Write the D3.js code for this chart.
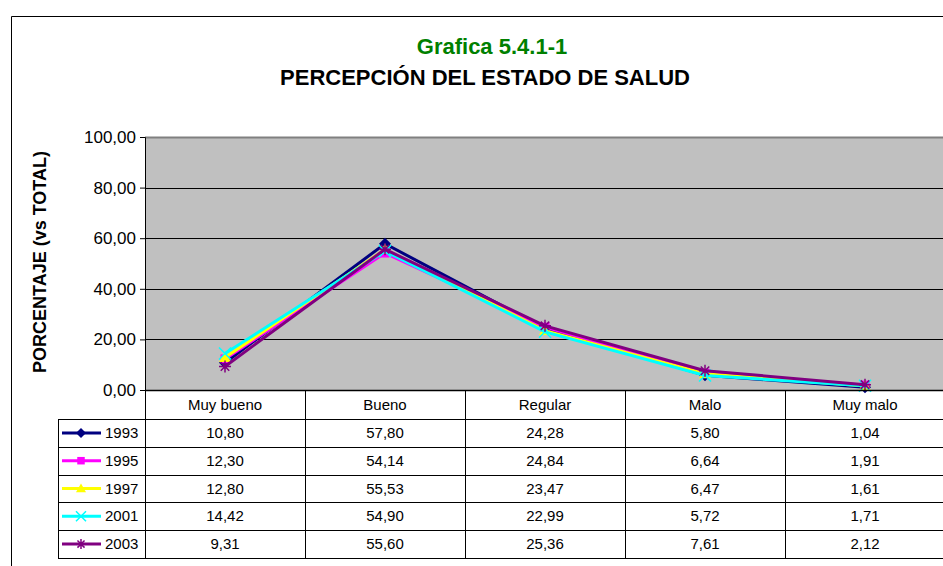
<!DOCTYPE html>
<html lang="es">
<head>
<meta charset="utf-8">
<title>Percepción del estado de salud</title>
<script src="https://cdn.jsdelivr.net/npm/d3@7"></script>
<style>
  body { margin: 0; background: #fff; }
  svg text { font-family: "Liberation Sans", Arial, sans-serif; }
</style>
</head>
<body>
<script>
// categorias y series
var categories = ["Muy bueno", "Bueno", "Regular", "Malo", "Muy malo"];
var years = ["1993", "1995", "1997", "2001", "2003"];
var v1993 = [10.80, 57.80, 24.28, 5.80, 1.04];
var v1995 = [12.30, 54.14, 24.84, 6.64, 1.91];
var v1997 = [12.80, 55.53, 23.47, 6.47, 1.61];
var v2001 = [14.42, 54.90, 22.99, 5.72, 1.71];
var v2003 = [9.31, 55.60, 25.36, 7.61, 2.12];
var yTicks = [0, 20, 40, 60, 80, 100];

var colors = ["#000080", "#ff00ff", "#ffff00", "#00ffff", "#800080"];
var symbols = ["diamond", "square", "triangle", "cross", "star"];
var series = [v1993, v1995, v1997, v2001, v2003].map(function (vals, i) {
  return { year: years[i], values: vals, color: colors[i], sym: symbols[i] };
});

var w = 943, h = 566;
var pLeft = 145, pRight = 945, pTop = 137, pBottom = 390;
var rowH = 27.8, headH = 29, legLeft = 58;

var svg = d3.select("body").append("svg")
  .attr("width", w).attr("height", h);

// marco exterior
svg.append("path")
  .attr("d", "M11.5," + h + "V16.5H" + w)
  .attr("fill", "none").attr("stroke", "#000").attr("stroke-width", 1);

// titulos
svg.append("text").text("Grafica 5.4.1-1")
  .attr("x", 492).attr("y", 54).attr("text-anchor", "middle")
  .attr("font-size", "22px").attr("font-weight", "bold").attr("fill", "#008000");
svg.append("text").text("PERCEPCIÓN DEL ESTADO DE SALUD")
  .attr("x", 485).attr("y", 85).attr("text-anchor", "middle")
  .attr("font-size", "22px").attr("font-weight", "bold").attr("fill", "#000");

var x = d3.scaleBand().domain(categories).range([pLeft, pRight]);
var y = d3.scaleLinear().domain([0, 100]).range([pBottom, pTop]);

// area del grafico
svg.append("rect")
  .attr("x", pLeft).attr("y", pTop)
  .attr("width", pRight - pLeft).attr("height", pBottom - pTop)
  .attr("fill", "#c0c0c0");
svg.append("line")
  .attr("x1", pLeft).attr("x2", pRight).attr("y1", pTop + 0.5).attr("y2", pTop + 0.5)
  .attr("stroke", "#808080").attr("stroke-width", 2);

// lineas de division
svg.selectAll("line.grid")
  .data(yTicks.filter(function (d) { return d > 0 && d < 100; }))
  .enter().append("line")
  .attr("class", "grid")
  .attr("x1", pLeft).attr("x2", pRight)
  .attr("y1", function (d) { return Math.round(y(d)) + 0.5; })
  .attr("y2", function (d) { return Math.round(y(d)) + 0.5; })
  .attr("stroke", "#000").attr("stroke-width", 1);

// eje y
var yAxis = svg.append("g")
  .attr("transform", "translate(" + pLeft + ",0)")
  .call(d3.axisLeft(y).tickValues(yTicks).tickSize(5).tickPadding(4)
    .tickFormat(function (d) { return d3.format(".2f")(d).replace(".", ","); }));
yAxis.select(".domain").attr("stroke", "#000");
yAxis.selectAll("text").attr("font-size", "17px").attr("fill", "#000")
  .attr("font-family", "Liberation Sans, Arial, sans-serif");
yAxis.selectAll("line").attr("stroke", "#000");

svg.append("text").text("PORCENTAJE (vs TOTAL)")
  .attr("transform", "translate(46,262) rotate(-90)")
  .attr("text-anchor", "middle")
  .attr("font-size", "18px").attr("font-weight", "bold");

// lineas de series
var line = d3.line()
  .x(function (d, i) { return x(categories[i]) + x.bandwidth() / 2; })
  .y(function (d) { return y(d); });

function marker(g, s, r) {
  if (s.sym === "diamond") {
    g.append("path")
      .attr("d", "M0," + (-r) + "L" + r + ",0L0," + r + "L" + (-r) + ",0Z")
      .attr("fill", s.color);
  } else if (s.sym === "square") {
    var q = r * 0.75;
    g.append("rect").attr("x", -q).attr("y", -q)
      .attr("width", 2 * q).attr("height", 2 * q).attr("fill", s.color);
  } else if (s.sym === "triangle") {
    g.append("path")
      .attr("d", "M0," + (-r) + "L" + r + "," + (r * 0.75) + "L" + (-r) + "," + (r * 0.75) + "Z")
      .attr("fill", s.color);
  } else if (s.sym === "cross") {
    g.append("path")
      .attr("d", "M" + (-r) + "," + (-r) + "L" + r + "," + r + "M" + (-r) + "," + r + "L" + r + "," + (-r))
      .attr("fill", "none").attr("stroke", s.color).attr("stroke-width", 1.5);
  } else {
    var p = "";
    for (var k = 0; k < 4; k++) {
      var a = k * Math.PI / 4;
      p += "M" + (-r * Math.cos(a)) + "," + (-r * Math.sin(a)) +
           "L" + (r * Math.cos(a)) + "," + (r * Math.sin(a));
    }
    g.append("path").attr("d", p)
      .attr("fill", "none").attr("stroke", s.color).attr("stroke-width", 1.5);
  }
}

series.forEach(function (s) {
  svg.append("path")
    .datum(s.values)
    .attr("d", line)
    .attr("fill", "none")
    .attr("stroke", s.color)
    .attr("stroke-width", 3);
  s.values.forEach(function (v, i) {
    var g = svg.append("g")
      .attr("transform", "translate(" + (x(categories[i]) + x.bandwidth() / 2) + "," + y(v) + ")");
    marker(g, s, 6);
  });
});

// tabla de datos
var tbl = svg.append("g").attr("stroke", "#000").attr("stroke-width", 1);
var tableBottom = pBottom + headH + rowH * years.length;
// lineas horizontales
d3.range(years.length + 1).forEach(function (r) {
  var yy = Math.round(pBottom + headH + r * rowH) + 0.5;
  tbl.append("line").attr("x1", legLeft).attr("x2", pRight)
    .attr("y1", yy).attr("y2", yy);
});
tbl.append("line").attr("x1", pLeft).attr("x2", pRight)
  .attr("y1", pBottom + 0.5).attr("y2", pBottom + 0.5).attr("stroke-width", 1.5);
// lineas verticales
categories.forEach(function (c) {
  var xx = Math.round(x(c)) + 0.5;
  tbl.append("line").attr("x1", xx).attr("x2", xx)
    .attr("y1", pBottom).attr("y2", tableBottom);
});
tbl.append("line").attr("x1", legLeft + 0.5).attr("x2", legLeft + 0.5)
  .attr("y1", pBottom + headH).attr("y2", tableBottom);

// encabezados
svg.selectAll("text.cat")
  .data(categories).enter().append("text")
  .attr("class", "cat")
  .attr("x", function (d) { return x(d) + x.bandwidth() / 2; })
  .attr("y", pBottom + 20)
  .attr("text-anchor", "middle").attr("font-size", "15px")
  .text(function (d) { return d; });

// filas
series.forEach(function (s, r) {
  var cy = pBottom + headH + r * rowH + rowH / 2;
  svg.append("line").attr("x1", 62).attr("x2", 101)
    .attr("y1", cy).attr("y2", cy)
    .attr("stroke", s.color).attr("stroke-width", 3);
  var g = svg.append("g").attr("transform", "translate(81," + cy + ")");
  marker(g, s, 5);
  svg.append("text").text(s.year)
    .attr("x", 105).attr("y", cy + 5).attr("font-size", "15px");
  s.values.forEach(function (v, i) {
    svg.append("text")
      .text(d3.format(".2f")(v).replace(".", ","))
      .attr("x", x(categories[i]) + x.bandwidth() / 2)
      .attr("y", cy + 5)
      .attr("text-anchor", "middle").attr("font-size", "15px");
  });
});
</script>
</body>
</html>
